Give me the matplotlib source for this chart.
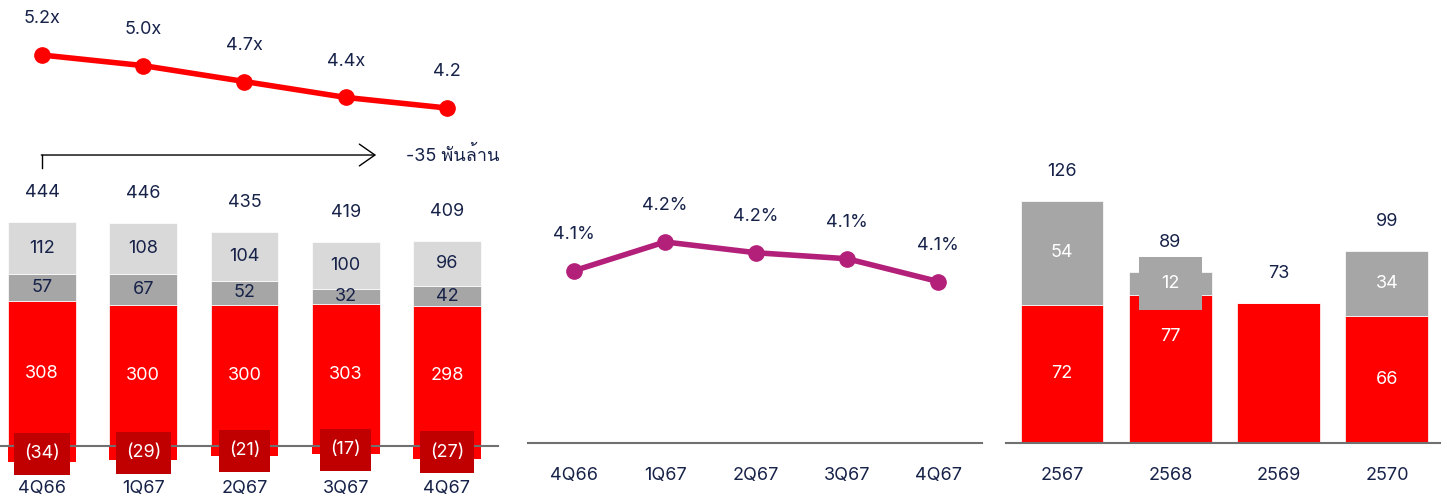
"""Three-panel recreation: debt bars + multiple line, ratio line, yearly bars."""

import numpy as np
import matplotlib
matplotlib.use("Agg")
import matplotlib.pyplot as plt  # noqa: E402
from matplotlib import font_manager  # noqa: E402
from matplotlib.ft2font import FT2Font  # noqa: E402
from matplotlib.path import Path  # noqa: E402

# ---- data -------------------------------------------------------------
quarters = ["4Q66", "1Q67", "2Q67", "3Q67", "4Q67"]
multiple = [5.2, 5.0, 4.7, 4.4, 4.2]
multiple_labels = ["5.2x", "5.0x", "4.7x", "4.4x", "4.2"]
red_main = [308, 300, 300, 303, 298]
gray_mid = [57, 67, 52, 32, 42]
gray_top = [112, 108, 104, 100, 96]
negative = [-34, -29, -21, -17, -27]
totals = [444, 446, 435, 419, 409]
change_label = "-35 พันล้าน"

ratio = [4.10, 4.22, 4.175, 4.15, 4.055]
ratio_labels = ["4.1%", "4.2%", "4.2%", "4.1%", "4.1%"]

years = ["2567", "2568", "2569", "2570"]
year_red = [72, 77, 73, 66]
year_gray = [54, 12, 0, 34]
year_totals = [126, 89, 73, 99]
year_red_shown = [True, True, False, True]
year_gray_boxed = [False, True, False, False]

# ---- style ------------------------------------------------------------
RED = "#FF0000"
DARK_RED = "#C00000"
GRAY = "#A6A6A6"
LIGHT = "#D9D9D9"
PURPLE = "#B3207A"
NAVY = "#172249"
AXIS = "#707070"
BASE = "Inter"
FS = 13

plt.rcParams["font.family"] = [BASE, "DejaVu Sans"]
plt.rcParams["font.size"] = FS


def _thai_family():
    found = []
    for f in font_manager.fontManager.ttflist:
        try:
            if FT2Font(f.fname).get_char_index(ord("พ")):
                found.append(f.name)
        except Exception:
            continue
    sans = [n for n in found if "Sans" in n or "Loma" in n or "Garuda" in n]
    return (sans or found or [None])[0]


def _box(padx, pady):
    """Square label box with separate x / y padding (in font sizes)."""
    def style(x0, y0, width, height, mutation_size):
        px, py = padx * mutation_size, pady * mutation_size
        x0, y0 = x0 - px, y0 - py
        x1, y1 = x0 + width + 2 * px, y0 + height + 2 * py
        return Path([(x0, y0), (x1, y0), (x1, y1), (x0, y1), (x0, y0)],
                    closed=True)
    return style


W, H = 1447, 496
fig = plt.figure(figsize=(W / 100, H / 100), dpi=100)


def px_axes(x0, y0, x1, y1):
    """Axes from a pixel box (origin top-left)."""
    ax = fig.add_axes([x0 / W, 1 - y1 / H, (x1 - x0) / W, (y1 - y0) / H])
    ax.patch.set_alpha(0)
    for s in ("top", "left", "right"):
        ax.spines[s].set_visible(False)
    ax.spines["bottom"].set_color(AXIS)
    ax.spines["bottom"].set_linewidth(1.5)
    ax.set_yticks([])
    return ax


def _above(ax, x, y, text, pts):
    ax.annotate(text, (x, y), xytext=(0, pts), textcoords="offset points",
                ha="center", va="center", color=NAVY, fontsize=FS)


# ---- panel 1: bars --------------------------------------------------
x = np.arange(len(quarters))
ax1 = px_axes(0, 150, 498, 496)
ax1.set_xlim(-0.415, 4.504)
ax1.set_ylim(-106.4, 629.8)
ax1.spines["bottom"].set_position(("data", 0))
w1 = 0.67
ax1.bar(x, negative, w1, color=RED, linewidth=0)
ax1.bar(x, red_main, w1, color=RED, edgecolor="white", linewidth=0.5)
ax1.bar(x, gray_mid, w1, bottom=red_main, color=GRAY, edgecolor="white",
        linewidth=0.5)
mid_top = np.add(red_main, gray_mid)
ax1.bar(x, gray_top, w1, bottom=mid_top, color=LIGHT, edgecolor="white",
        linewidth=0.5)
stack_top = mid_top + np.array(gray_top)
for i in x:
    ax1.text(i, red_main[i] / 2, str(red_main[i]), ha="center", va="center",
             color="white")
    ax1.text(i, red_main[i] + gray_mid[i] / 2, str(gray_mid[i]), ha="center",
             va="center", color=NAVY)
    ax1.text(i, mid_top[i] + gray_top[i] / 2, str(gray_top[i]), ha="center",
             va="center", color=NAVY)
    ax1.text(i, negative[i] / 2, f"({-negative[i]})", ha="center", va="center",
             color="white", zorder=4,
             bbox=dict(boxstyle=_box(0.55, 0.7), fc=DARK_RED, ec="none"))
    _above(ax1, i, stack_top[i], str(totals[i]), 21)
ax1.set_xticks(x, quarters)
ax1.tick_params(axis="x", length=0, pad=24.5, labelcolor=NAVY, labelsize=FS)

# change arrow
tr = ax1.get_xaxis_transform()
ax1.plot([x[0], x[0]], [0.948, 0.9855], transform=tr, color="black", lw=1,
         clip_on=False)
ax1.annotate("", xy=(3.3, 0.9855), xytext=(x[0] - 0.007, 0.9855), xycoords=tr,
             textcoords=tr,
             arrowprops=dict(arrowstyle="->,head_length=0.4,head_width=0.28",
                             lw=1, color="black", mutation_scale=28,
                             shrinkA=0, shrinkB=0))
thai = _thai_family()
fam = [BASE, thai, "DejaVu Sans"] if thai else [BASE, "DejaVu Sans"]
ax1.text(3.6, 0.9855, change_label, transform=tr, ha="left", va="center",
         color=NAVY, family=fam)

# ---- panel 1: multiple line ----------------------------------------
ax1l = px_axes(0, 0, 498, 150)
ax1l.axis("off")
ax1l.set_xlim(-0.415, 4.504)
ax1l.set_ylim(3.408, 6.238)
ax1l.plot(x, multiple, color=RED, lw=4, marker="o", ms=11)
for i in x:
    _above(ax1l, i, multiple[i], multiple_labels[i], 26)

# ---- panel 2: ratio line ----------------------------------------------
ax2 = px_axes(528, 150, 982, 443)
ax2.set_xlim(-0.505, 4.48)
ax2.set_ylim(3.3825, 4.603)
ax2.plot(x, ratio, color=PURPLE, lw=4, marker="o", ms=11)
for i in x:
    _above(ax2, i, ratio[i], ratio_labels[i], 26)
ax2.set_xticks(x, quarters)
ax2.tick_params(axis="x", length=0, pad=17, labelcolor=NAVY, labelsize=FS)

# ---- panel 3: yearly bars ---------------------------------------------
xy = np.arange(len(years))
ax3 = px_axes(1006, 150, 1440, 443)
ax3.set_xlim(-0.517, 3.49)
ax3.set_ylim(0, 152.6)
w3 = 0.766
ax3.bar(xy, year_red, w3, color=RED, edgecolor="white", linewidth=0.5)
ax3.bar(xy, year_gray, w3, bottom=year_red, color=GRAY, edgecolor="white",
        linewidth=0.5)
for i in xy:
    if year_red_shown[i]:
        # red label is lifted where the grey label box hangs into the bar
        yl = year_red[i] * (0.72 if year_gray_boxed[i] else 0.5)
        ax3.text(i, yl, str(year_red[i]), ha="center", va="center",
                 color="white")
    if year_gray[i]:
        box = (dict(boxstyle=_box(1.25, 1.0), fc=GRAY, ec="none")
               if year_gray_boxed[i] else None)
        ax3.text(i, year_red[i] + year_gray[i] / 2, str(year_gray[i]),
                 ha="center", va="center", color="white", bbox=box)
    _above(ax3, i, year_red[i] + year_gray[i], str(year_totals[i]), 21)
ax3.set_xticks(xy, years)
ax3.tick_params(axis="x", length=0, pad=17, labelcolor=NAVY, labelsize=FS)

fig.savefig("out.png", dpi=100)
plt.close(fig)
